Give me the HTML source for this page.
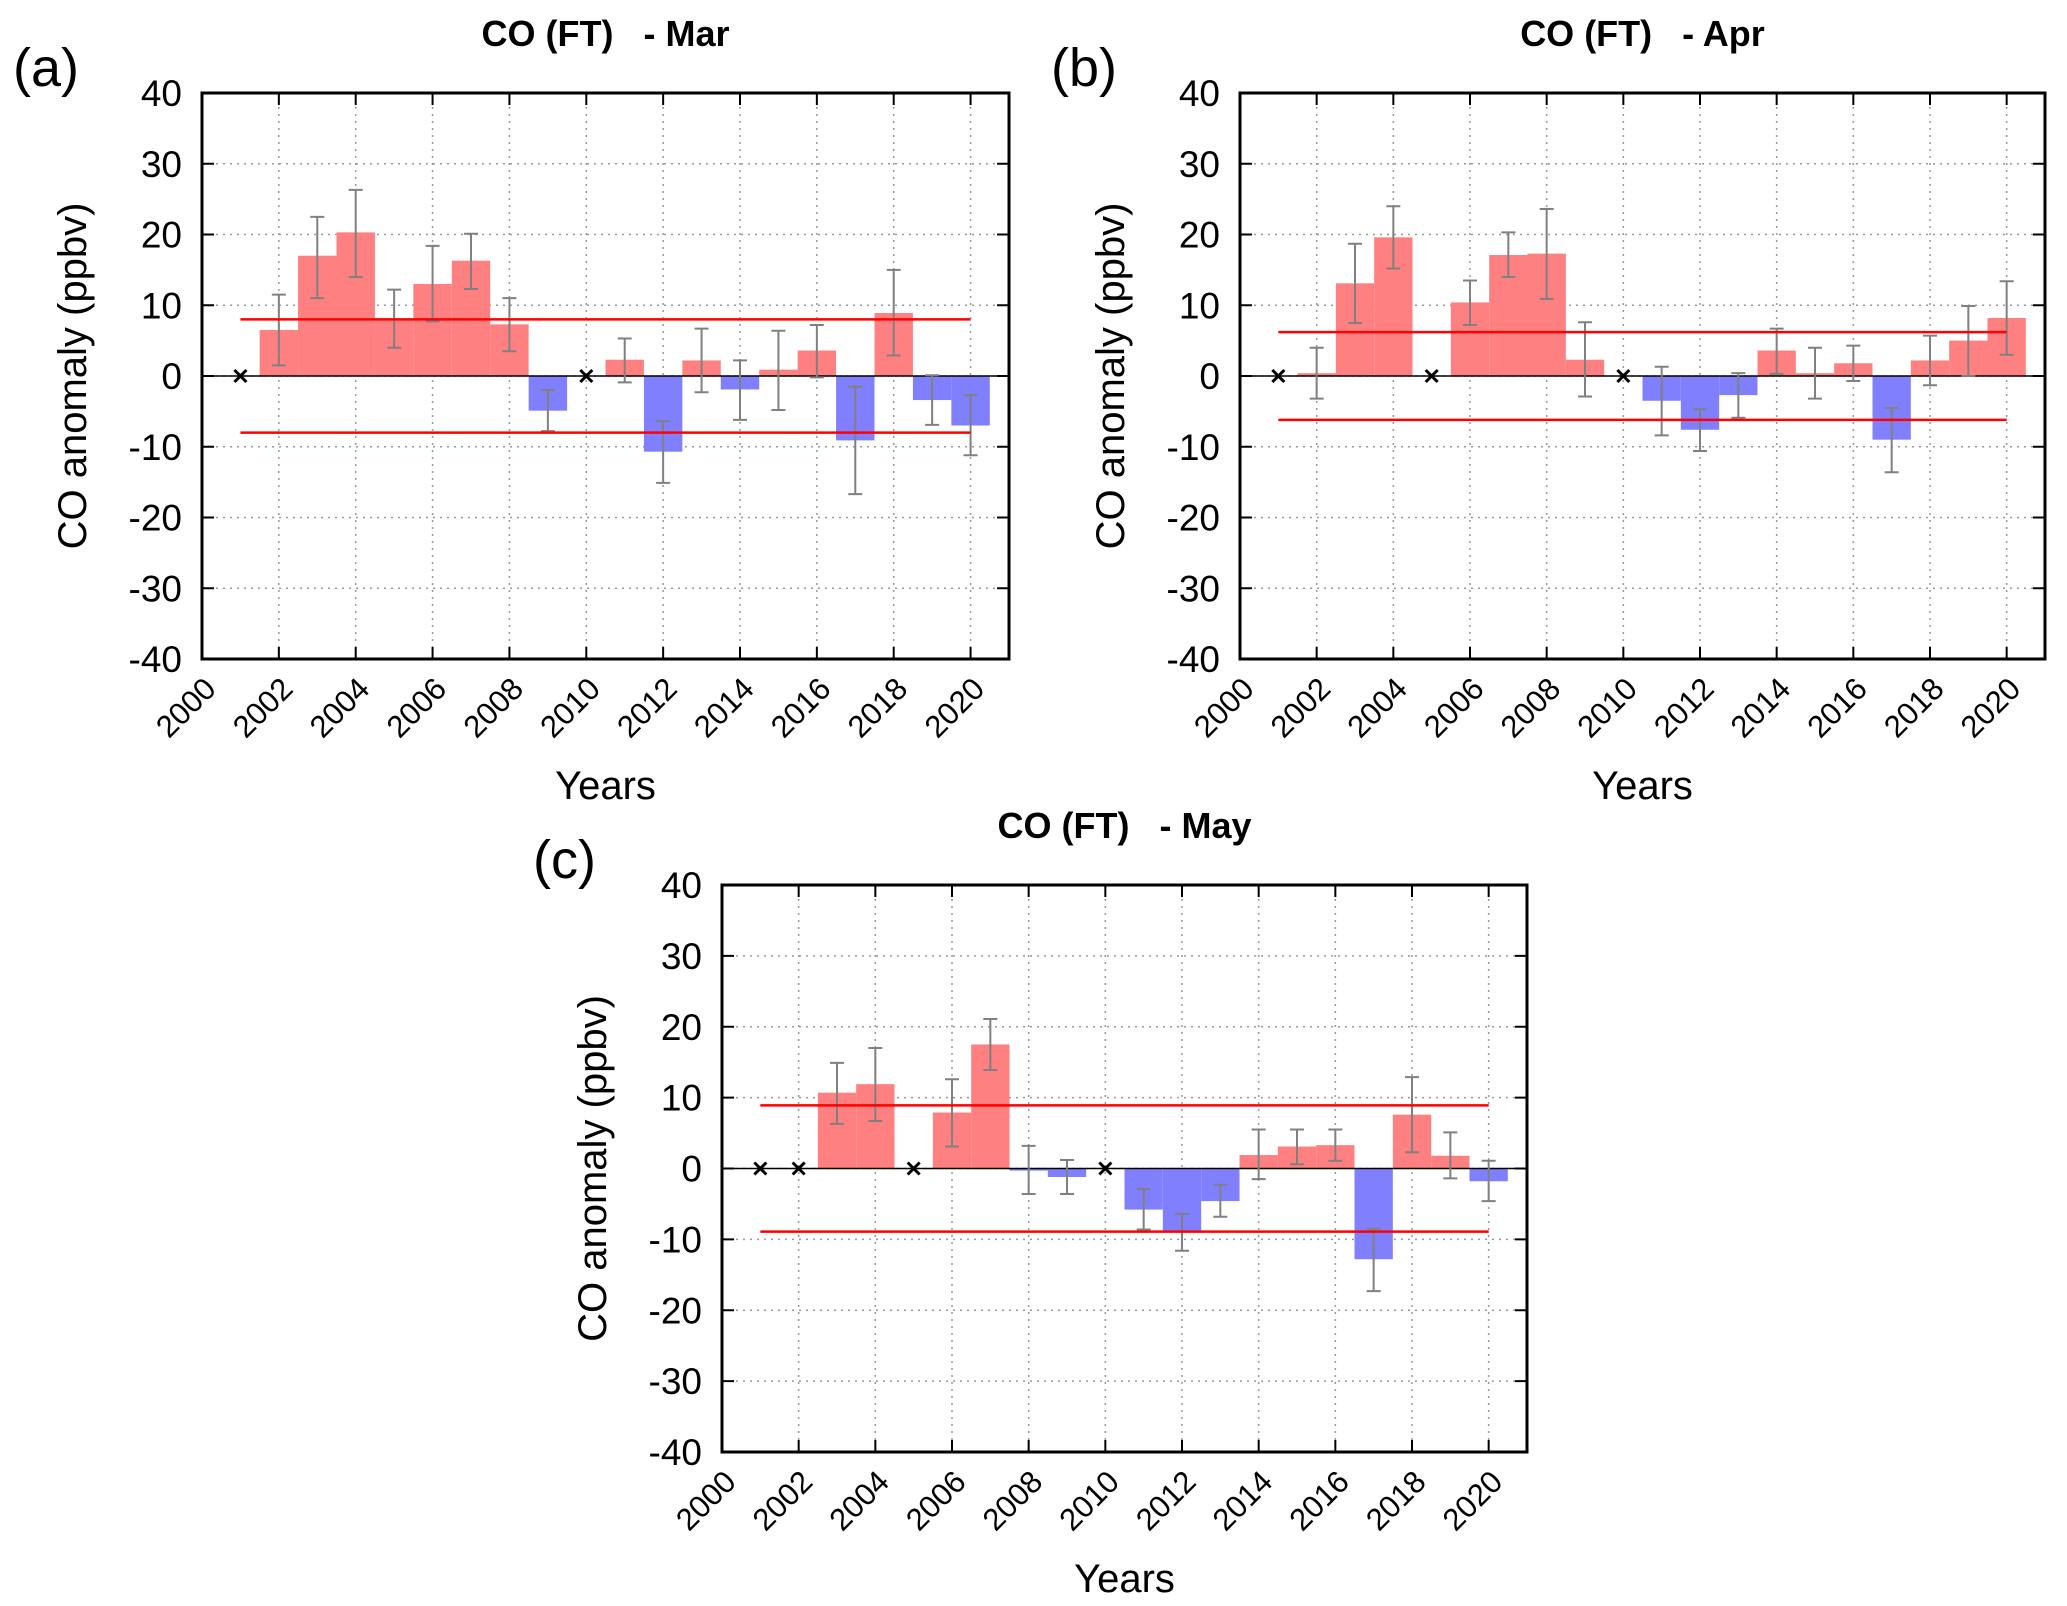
<!DOCTYPE html>
<html><head><meta charset="utf-8">
<style>
html,body{margin:0;padding:0;background:#fff;}
svg{display:block;font-family:"Liberation Sans",sans-serif;}
.pre{white-space:pre;}
</style></head>
<body>
<svg id="fig" width="2067" height="1606" viewBox="0 0 2067 1606" xmlns="http://www.w3.org/2000/svg"></svg>
<script>
const years = [2001,2002,2003,2004,2005,2006,2007,2008,2009,2010,2011,2012,2013,2014,2015,2016,2017,2018,2019,2020];
const marVals = [null,6.5,17,20.3,8,13,16.3,7.3,-4.9,null,2.3,-10.7,2.2,-1.9,0.9,3.6,-9.1,8.9,-3.4,-7];
const marLo = [null,1.5,11,14,4,7.7,12.3,3.5,-7.8,null,-0.9,-15.1,-2.3,-6.2,-4.8,-0.2,-16.7,2.9,-6.9,-11.2];
const marHi = [null,11.5,22.5,26.3,12.2,18.4,20.1,11,-2,null,5.3,-6.4,6.7,2.2,6.4,7.2,-1.5,15,0.1,-2.7];
const marThr = 8;
const aprVals = [null,0.4,13.1,19.6,null,10.4,17.1,17.3,2.3,null,-3.5,-7.6,-2.7,3.6,0.4,1.8,-9,2.2,5,8.2];
const aprLo = [null,-3.2,7.5,15.2,null,7.2,14,10.9,-2.9,null,-8.4,-10.6,-5.9,0.3,-3.2,-0.7,-13.6,-1.3,0,3];
const aprHi = [null,4,18.7,24,null,13.5,20.3,23.6,7.6,null,1.3,-4.7,0.4,6.7,4,4.3,-4.5,5.7,9.9,13.4];
const aprThr = 6.2;
const mayVals = [null,null,10.7,11.9,null,7.9,17.5,-0.3,-1.2,null,-5.8,-8.9,-4.6,1.9,3.1,3.3,-12.8,7.6,1.8,-1.8];
const mayLo = [null,null,6.3,6.7,null,3.1,13.9,-3.6,-3.6,null,-8.6,-11.6,-6.8,-1.5,0.6,1.1,-17.3,2.3,-1.4,-4.6];
const mayHi = [null,null,14.9,17,null,12.6,21.1,3.2,1.2,null,-2.9,-6.4,-2.3,5.5,5.5,5.5,-8.5,12.9,5.1,1.1];
const mayThr = 8.9;
const yTicks = [40,30,20,10,0,-10,-20,-30,-40];
const xTicks = [2000,2002,2004,2006,2008,2010,2012,2014,2016,2018,2020];

const NS='http://www.w3.org/2000/svg';
const svg=document.getElementById('fig');
function mk(tag,attrs,parent,text){const e=document.createElementNS(NS,tag);for(const k in attrs)e.setAttribute(k,attrs[k]);if(text!==undefined)e.textContent=text;(parent||svg).appendChild(e);return e;}

function panel(id,L,T,R,B,title,letter,vals,lo,hi,thr){
  const g=mk('g',{});
  
  
  const xs=v=>L+(v-2000)/21*(R-L);
  const ys=v=>T+(40-v)/80*(B-T);
  yTicks.forEach(t=>{ if(t!==40&&t!==-40){const l=mk('line',{x1:L,x2:R,y1:ys(t),y2:ys(t),stroke:'#999','stroke-width':1.5,'stroke-dasharray':'2,5'},g);
    
    }});
  xTicks.forEach(t=>{ if(t!==2000){const l=mk('line',{x1:xs(t),x2:xs(t),y1:T,y2:B,stroke:'#999','stroke-width':1.5,'stroke-dasharray':'2,5'},g);
    
    }});
  years.forEach((y,i)=>{
    const v=vals[i];
    if(v===null){
      const cx=xs(y),cy=ys(0),s=6;
      const p=mk('path',{d:`M${cx-s},${cy-s}L${cx+s},${cy+s}M${cx-s},${cy+s}L${cx+s},${cy-s}`,stroke:'#000','stroke-width':3},g);
      
      
      return;
    }
    const x0=xs(y-0.5),x1=xs(y+0.5);
    const r=mk('rect',{x:x0,y:Math.min(ys(v),ys(0)),width:x1-x0,height:Math.abs(ys(v)-ys(0)),fill:v>=0?'#ff8080':'#8080ff'},g);
    
    
  });
  const z=mk('line',{x1:L,x2:R,y1:ys(0),y2:ys(0),stroke:'#000','stroke-width':1.5},g);
  
  
  years.forEach((y,i)=>{
    if(vals[i]===null)return;
    const cx=xs(y),c=7;
    const e=mk('path',{d:`M${cx},${ys(lo[i])}L${cx},${ys(hi[i])}M${cx-c},${ys(lo[i])}L${cx+c},${ys(lo[i])}M${cx-c},${ys(hi[i])}L${cx+c},${ys(hi[i])}`,stroke:'#808080','stroke-width':2,fill:'none'},g);
    
    
  });
  [thr,-thr].forEach(t=>{
    const l=mk('line',{x1:xs(2001),x2:xs(2020),y1:ys(t),y2:ys(t),stroke:'#ff0000','stroke-width':2.5},g);
    
    
  });
  const f=mk('rect',{x:L,y:T,width:R-L,height:B-T,fill:'none',stroke:'#000','stroke-width':3},g);
  
  
  yTicks.forEach(t=>{
    mk('line',{x1:L,x2:L+12,y1:ys(t),y2:ys(t),stroke:'#000','stroke-width':2},g);
    mk('line',{x1:R-12,x2:R,y1:ys(t),y2:ys(t),stroke:'#000','stroke-width':2},g);
    const tx=mk('text',{x:L-20,y:ys(t)+13,'text-anchor':'end','font-size':37,fill:'#000'},g,String(t));
    
    
  });
  xTicks.forEach(t=>{
    mk('line',{x1:xs(t),x2:xs(t),y1:B,y2:B-12,stroke:'#000','stroke-width':2},g);
    mk('line',{x1:xs(t),x2:xs(t),y1:T,y2:T+12,stroke:'#000','stroke-width':2},g);
    const px=xs(t)+8,py=B+24;
    const tx=mk('text',{x:px,y:py,'text-anchor':'end','font-size':31,fill:'#000',transform:`rotate(-45 ${px} ${py})`,dy:'0.35em'},g,String(t));
    
    
  });
  const cx=(L+R)/2;
  const ti=mk('text',{x:cx,y:T-47,'text-anchor':'middle','font-size':36,'font-weight':'bold',fill:'#000','class':'pre'},g,title);
  
  
  const le=mk('text',{x:L-189,y:T-7,'font-size':54,fill:'#000'},g,letter);
  
  
  const my=(T+B)/2, yx=L-130;
  const yt=mk('text',{x:yx,y:my,'text-anchor':'middle','font-size':40,fill:'#000',transform:`rotate(-90 ${yx} ${my})`,dy:'0.35em'},g,'CO anomaly (ppbv)');
  
  
  const xt=mk('text',{x:cx,y:B+140,'text-anchor':'middle','font-size':40,fill:'#000'},g,'Years');
  
  
}
panel('mar',202,93,1009,659,'CO (FT)   - Mar','(a)',marVals,marLo,marHi,marThr);
panel('apr',1240,93,2045,659,'CO (FT)   - Apr','(b)',aprVals,aprLo,aprHi,aprThr);
panel('may',722,885,1527,1452,'CO (FT)   - May','(c)',mayVals,mayLo,mayHi,mayThr);
</script>
</body></html>
